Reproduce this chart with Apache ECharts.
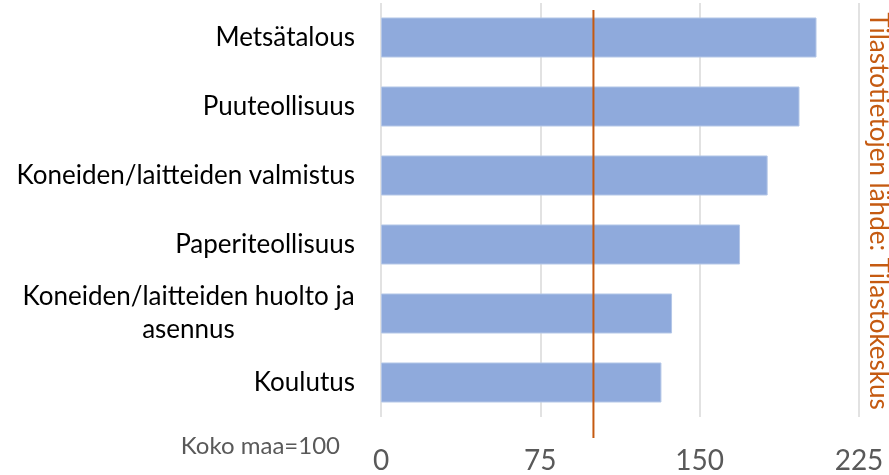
<!DOCTYPE html>
<html>
<head>
<meta charset="utf-8">
<script src="https://cdn.jsdelivr.net/npm/echarts@6/dist/echarts.min.js"></script>
<style>html,body{margin:0;padding:0;background:#fff}#c{width:889px;height:475px}</style>
</head>
<body>
<div id="c"></div>
<script>
const categories = ["Metsätalous", "Puuteollisuus", "Koneiden/laitteiden valmistus", "Paperiteollisuus", "Koneiden/laitteiden huolto ja\nasennus", "Koulutus"];
const values = [205, 197, 182, 169, 137, 132];
const referenceValue = 100;
const tickLabels = [0, 75, 150, 225];
const baselineNote = "Koko maa=100";
const sourceNote = "Tilastotietojen lähde: Tilastokeskus";

const FONT = "Lato, 'Liberation Sans', sans-serif";
const LABEL_SIZE = 26;
const ctx = document.createElement('canvas').getContext('2d');
ctx.font = LABEL_SIZE + 'px ' + FONT;
let wrapWidth = 0;
categories.forEach(c => {
  if (c.indexOf('\n') >= 0) c.split('\n').forEach(l => { wrapWidth = Math.max(wrapWidth, Math.ceil(ctx.measureText(l).width)); });
});

const chart = echarts.init(document.getElementById('c'), null, {renderer: 'canvas'});
chart.setOption({
  animation: false,
  grid: [
    {left: 381, right: 30, top: 3, bottom: 52},
    {left: 381, right: 30, top: 10, bottom: 37}
  ],
  xAxis: [
    {
      type: 'value', gridIndex: 0, min: tickLabels[0], max: tickLabels[tickLabels.length - 1], interval: 75,
      axisLine: {show: false}, axisTick: {show: false},
      splitLine: {show: true, lineStyle: {color: '#d9d9d9', width: 1.5}},
      axisLabel: {color: '#595959', fontSize: 28, fontFamily: FONT, margin: 30}
    },
    {
      type: 'value', gridIndex: 1, min: tickLabels[0], max: tickLabels[tickLabels.length - 1],
      show: false
    }
  ],
  yAxis: [
    {
      type: 'category', gridIndex: 0, data: categories, inverse: true,
      axisLine: {show: false}, axisTick: {show: false}, splitLine: {show: false},
      axisLabel: {
        color: '#000', fontSize: LABEL_SIZE, fontFamily: FONT, margin: 26, lineHeight: 33, align: 'right',
        formatter: v => v.indexOf('\n') >= 0 ? v.split('\n').map(l => '{c|' + l + '}').join('\n') : v,
        rich: {c: {width: wrapWidth, align: 'center', fontSize: LABEL_SIZE, fontFamily: FONT, lineHeight: 33, color: '#000'}}
      }
    },
    {type: 'value', gridIndex: 1, min: 0, max: 1, show: false}
  ],
  series: [
    {
      type: 'bar', xAxisIndex: 0, yAxisIndex: 0, data: values, barWidth: '58%',
      itemStyle: {color: '#8FAADC', borderColor: '#B4C7E7', borderWidth: 1}
    },
    {
      type: 'line', xAxisIndex: 1, yAxisIndex: 1,
      data: [[referenceValue, 0], [referenceValue, 1]],
      symbol: 'none', z: 10,
      lineStyle: {color: '#C55A11', width: 2}
    }
  ],
  graphic: [
    {
      type: 'text', right: 549, top: 434,
      style: {text: baselineNote, fill: '#595959', font: "24px " + FONT}
    },
    {
      type: 'text', x: 878, y: 211, rotation: -Math.PI / 2,
      style: {text: sourceNote, fill: '#C55A11', font: "normal 26px " + FONT, align: 'center', verticalAlign: 'middle'}
    }
  ]
});
</script>
</body>
</html>
